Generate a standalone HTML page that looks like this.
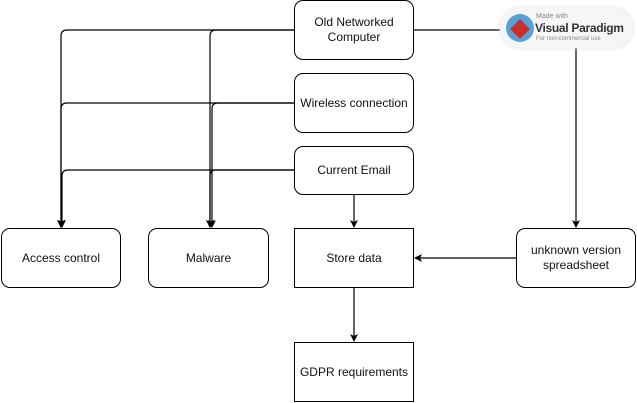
<!DOCTYPE html>
<html><head><style>
body{margin:0;width:637px;height:403px;background:#fff;position:relative;overflow:hidden;font-family:"Liberation Sans",sans-serif;}
.b{position:absolute;box-sizing:border-box;border:1.3px solid #000;border-radius:9px;background:#fff;display:flex;align-items:center;justify-content:center;text-align:center;font-size:12px;line-height:15px;color:#111;}
.sq{border-radius:0;}
</style></head><body>
<svg width="637" height="403" style="position:absolute;left:0;top:0">
<defs><marker id="a" markerWidth="8" markerHeight="8" refX="7" refY="4" orient="auto" markerUnits="userSpaceOnUse"><path d="M0,0 L8,4 L0,8 L2,4z" fill="#000"/></marker></defs>
<g fill="none" stroke="#000" stroke-width="1.2">
<path d="M295 30 H67 Q61 30 61 36 V227" marker-end="url(#a)"/>
<path d="M295 30 H216 Q210 30 210 36 V227" marker-end="url(#a)"/>
<path d="M295 103 H67 Q61 103 61 109 V227" marker-end="url(#a)"/>
<path d="M295 103 H218 Q212 103 212 109 V227" marker-end="url(#a)"/>
<path d="M295 170 H68 Q62 170 62 176 V227" marker-end="url(#a)"/>
<path d="M295 170 H216 Q210 170 210 176 V227" marker-end="url(#a)"/>
<path d="M414 30 H505"/>
<path d="M576 48 V227" marker-end="url(#a)"/>
<path d="M517 258 H415" marker-end="url(#a)"/>
<path d="M354 194 V227" marker-end="url(#a)"/>
<path d="M354 288 V341" marker-end="url(#a)"/>
</g>
</svg>
<div class="b" style="left:294px;top:0px;width:120px;height:60px">Old Networked<br>Computer</div>
<div class="b" style="left:294px;top:73px;width:120px;height:60px">Wireless connection</div>
<div class="b" style="left:294px;top:146px;width:120px;height:49px">Current Email</div>
<div class="b" style="left:1px;top:228px;width:120px;height:60px">Access control</div>
<div class="b" style="left:148px;top:228px;width:121px;height:60px">Malware</div>
<div class="b sq" style="left:294px;top:228px;width:120px;height:60px">Store data</div>
<div class="b" style="left:516px;top:228px;width:120px;height:60px">unknown version<br>spreadsheet</div>
<div class="b sq" style="left:294px;top:342px;width:120px;height:60px">GDPR requirements</div>
<div style="position:absolute;left:500px;top:8px;width:133px;height:40px;border-radius:20px;background:#f6f6f6;box-shadow:0 0 4px #ddd;white-space:nowrap;">
<div style="position:absolute;left:6px;top:6px;width:28px;height:28px;border-radius:50%;background:#5aa0d8;"></div>
<div style="position:absolute;left:13px;top:14px;width:14px;height:14px;background:#c8302c;transform:rotate(45deg);"></div>
<div style="position:absolute;left:36px;top:5px;font-size:7px;line-height:8px;color:#888;">Made with</div>
<div style="position:absolute;left:35px;top:13px;font-size:12px;line-height:14px;font-weight:bold;color:#333;letter-spacing:-0.3px;">Visual Paradigm</div>
<div style="position:absolute;left:36px;top:28px;font-size:6px;line-height:7px;color:#888;">For non-commercial use</div>
</div>
</body></html>
